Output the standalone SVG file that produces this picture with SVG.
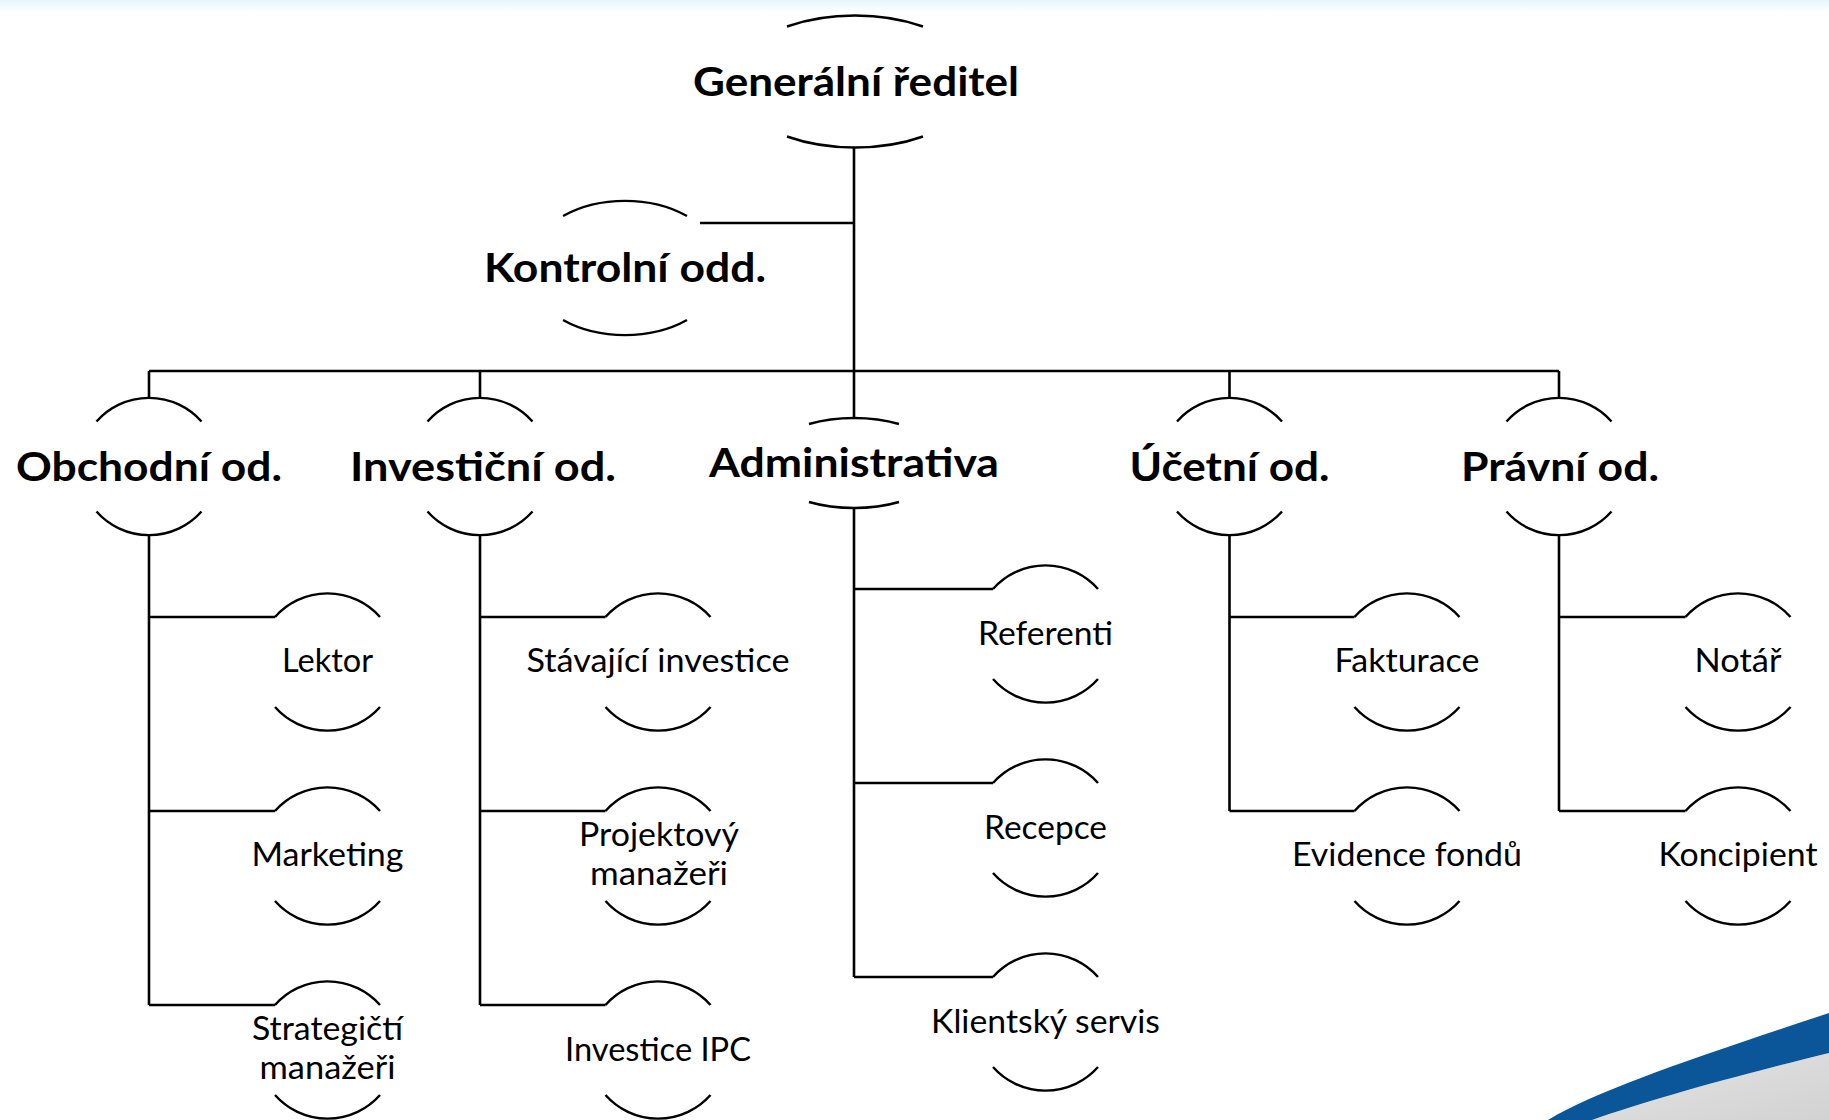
<svg xmlns="http://www.w3.org/2000/svg" xmlns:xlink="http://www.w3.org/1999/xlink" width="1829" height="1120" viewBox="0 0 1829 1120">
<style>
.arc{fill:none;stroke:#000;stroke-width:2.4}
.conn{fill:none;stroke:#000;stroke-width:2.6}
.b{font-family:Lato,"Liberation Sans",sans-serif;font-weight:700;font-size:41px;text-anchor:middle;fill:#000}
.r{font-family:Lato,"Liberation Sans",sans-serif;font-weight:400;font-size:33px;text-anchor:middle;fill:#000}
</style>
<defs>
<linearGradient id="topband" x1="0" y1="0" x2="0" y2="1">
<stop offset="0" stop-color="#e3f6fb"/>
<stop offset="1" stop-color="#ffffff"/>
</linearGradient>
<linearGradient id="grayfill" x1="0" y1="0" x2="1" y2="1">
<stop offset="0" stop-color="#e4e4e4"/>
<stop offset="1" stop-color="#d2d2d2"/>
</linearGradient>
<path id="ta" class="arc" d="M-52.5,-45 A69.5,68.5 0 0 1 52.5,-45"/>
<path id="ba" class="arc" d="M-52.5,45 A69.5,68.5 0 0 0 52.5,45"/>
</defs>
<rect x="0" y="0" width="1829" height="1120" fill="#ffffff"/>
<rect x="0" y="0" width="1829" height="12" fill="url(#topband)"/>
<g id="swoosh">
<path d="M1592,1120 C1650,1100 1720,1080 1829,1053 L1829,1120 Z" fill="url(#grayfill)"/>
<path d="M1548,1120 C1600,1089 1700,1056 1829,1013 L1829,1053 C1720,1080 1650,1100 1592,1120 Z" fill="#0b5699"/>
</g>

<g id="connectors" class="conn">
<path d="M854,147 V418"/>
<path d="M700,223 H854"/>
<path d="M149,371 H1559"/>
<path d="M149,371 V399 M480,371 V399 M1229.5,371 V399 M1559,371 V399"/>
<path d="M149,535 V1005 M149,617 H275 M149,811 H275 M149,1005 H275"/>
<path d="M480,535 V1005 M480,617 H605.5 M480,811 H605.5 M480,1005 H605.5"/>
<path d="M854,508 V977 M854,589 H993 M854,783 H993 M854,977 H993"/>
<path d="M1229.5,535 V811 M1229.5,617 H1354.5 M1229.5,811 H1354.5"/>
<path d="M1559,535 V811 M1559,617 H1685.5 M1559,811 H1685.5"/>
</g>

<g id="n-generalni" transform="translate(855,81.5)">
<path class="arc" d="M-68,-55 A123,66 0 0 1 68,-55"/>
<path class="arc" d="M-68,55 A123,66 0 0 0 68,55"/>
<text class="b" x="1" y="14.5" textLength="326" lengthAdjust="spacingAndGlyphs">Generální ředitel</text>
</g>

<g id="n-kontrolni" transform="translate(625,268)">
<path class="arc" d="M-62,-52 A98,67 0 0 1 62,-52"/>
<path class="arc" d="M-62,52 A98,67 0 0 0 62,52"/>
<text class="b" x="0" y="14" textLength="282" lengthAdjust="spacingAndGlyphs">Kontrolní odd.</text>
</g>

<g id="n-obchodni" transform="translate(149,466.5)">
<use href="#ta"/><use href="#ba"/>
<text class="b" x="0" y="14" textLength="266" lengthAdjust="spacingAndGlyphs">Obchodní od.</text>
</g>
<g id="n-investicni" transform="translate(480,466.5)">
<use href="#ta"/><use href="#ba"/>
<text class="b" x="3" y="14" textLength="266" lengthAdjust="spacingAndGlyphs">Investiční od.</text>
</g>
<g id="n-administrativa" transform="translate(854,463)">
<path class="arc" d="M-45,-39 A90,45 0 0 1 45,-39"/>
<path class="arc" d="M-45,39 A90,45 0 0 0 45,39"/>
<text class="b" x="0" y="14" textLength="290" lengthAdjust="spacingAndGlyphs">Administrativa</text>
</g>
<g id="n-ucetni" transform="translate(1229.5,466.5)">
<use href="#ta"/><use href="#ba"/>
<text class="b" x="0" y="14" textLength="200" lengthAdjust="spacingAndGlyphs">Účetní od.</text>
</g>
<g id="n-pravni" transform="translate(1559,466.5)">
<use href="#ta"/><use href="#ba"/>
<text class="b" x="1" y="14" textLength="198" lengthAdjust="spacingAndGlyphs">Právní od.</text>
</g>

<g id="n-lektor" transform="translate(327.5,662)">
<use href="#ta"/><use href="#ba"/>
<text class="r" x="0" y="10" textLength="91" lengthAdjust="spacingAndGlyphs">Lektor</text>
</g>
<g id="n-marketing" transform="translate(327.5,856)">
<use href="#ta"/><use href="#ba"/>
<text class="r" x="0" y="10" textLength="152" lengthAdjust="spacingAndGlyphs">Marketing</text>
</g>
<g id="n-strategicti" transform="translate(327.5,1050)">
<use href="#ta"/><use href="#ba"/>
<text class="r" x="0" y="-10" textLength="151" lengthAdjust="spacingAndGlyphs">Strategičtí</text>
<text class="r" x="0" y="29" textLength="136" lengthAdjust="spacingAndGlyphs">manažeři</text>
</g>

<g id="n-stavajici" transform="translate(658,662)">
<use href="#ta"/><use href="#ba"/>
<text class="r" x="0" y="10" textLength="263" lengthAdjust="spacingAndGlyphs">Stávající investice</text>
</g>
<g id="n-projektovy" transform="translate(658,856)">
<use href="#ta"/><use href="#ba"/>
<text class="r" x="1" y="-10" textLength="160" lengthAdjust="spacingAndGlyphs">Projektový</text>
<text class="r" x="1" y="29" textLength="138" lengthAdjust="spacingAndGlyphs">manažeři</text>
</g>
<g id="n-ipc" transform="translate(658,1050)">
<use href="#ta"/><use href="#ba"/>
<text class="r" x="0" y="11" textLength="186" lengthAdjust="spacingAndGlyphs">Investice IPC</text>
</g>

<g id="n-referenti" transform="translate(1045.5,634)">
<use href="#ta"/><use href="#ba"/>
<text class="r" x="0" y="11" textLength="135" lengthAdjust="spacingAndGlyphs">Referenti</text>
</g>
<g id="n-recepce" transform="translate(1045.5,828)">
<use href="#ta"/><use href="#ba"/>
<text class="r" x="0" y="11" textLength="123" lengthAdjust="spacingAndGlyphs">Recepce</text>
</g>
<g id="n-klientsky" transform="translate(1045.5,1022)">
<use href="#ta"/><use href="#ba"/>
<text class="r" x="0" y="11" textLength="229" lengthAdjust="spacingAndGlyphs">Klientský servis</text>
</g>

<g id="n-fakturace" transform="translate(1407,662)">
<use href="#ta"/><use href="#ba"/>
<text class="r" x="0" y="10" textLength="145" lengthAdjust="spacingAndGlyphs">Fakturace</text>
</g>
<g id="n-evidence" transform="translate(1407,856)">
<use href="#ta"/><use href="#ba"/>
<text class="r" x="0" y="10" textLength="230" lengthAdjust="spacingAndGlyphs">Evidence fondů</text>
</g>

<g id="n-notar" transform="translate(1738,662)">
<use href="#ta"/><use href="#ba"/>
<text class="r" x="0" y="10" textLength="87" lengthAdjust="spacingAndGlyphs">Notář</text>
</g>
<g id="n-koncipient" transform="translate(1738,856)">
<use href="#ta"/><use href="#ba"/>
<text class="r" x="0" y="10" textLength="159" lengthAdjust="spacingAndGlyphs">Koncipient</text>
</g>
</svg>
